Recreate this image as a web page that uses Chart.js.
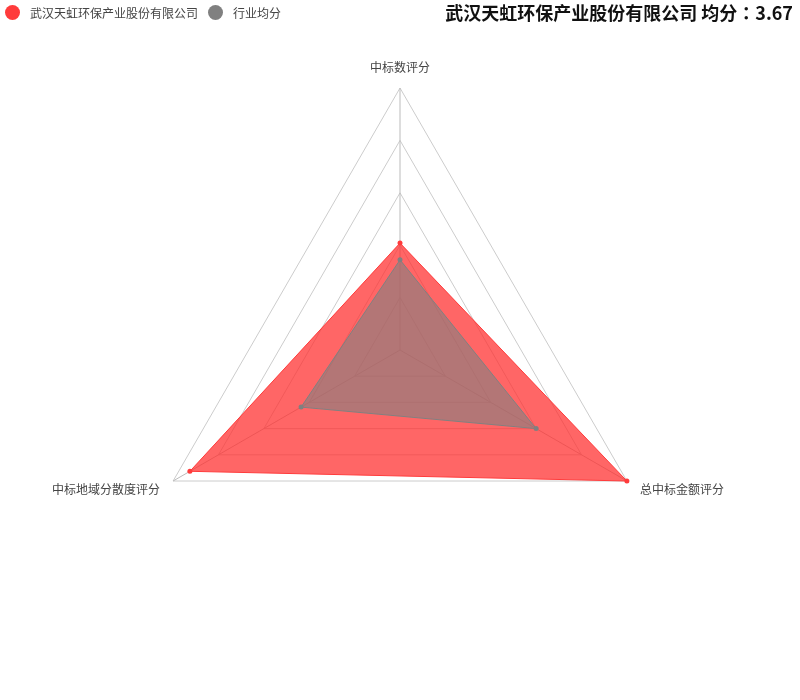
<!DOCTYPE html>
<html><head><meta charset="utf-8">
<script src="https://cdn.jsdelivr.net/npm/chart.js@4"></script>
<style>
html,body{margin:0;padding:0;background:#fff;}
#wrap{position:relative;width:800px;height:700px;overflow:hidden;}
canvas{position:absolute;left:0;top:0;}
#title{position:absolute;right:7px;top:3px;font:bold 18px/18px "Noto Sans CJK SC",sans-serif;color:#111;white-space:nowrap;}
#title .colon{font-family:"Noto Sans CJK TC",sans-serif;}
#legend{position:absolute;left:5px;top:5px;font:12px/15px "Noto Sans CJK SC",sans-serif;color:#444;display:flex;align-items:center;white-space:nowrap;}
.dot{display:inline-block;width:15px;height:15px;border-radius:50%;margin-right:10px;}
.item{display:flex;align-items:center;margin-right:10px;}
</style>
</head><body>
<div id="wrap">
<canvas id="c" width="800" height="700"></canvas>
<div id="legend"></div>
<div id="title"></div>
</div>
<script>
const categories = ['中标数评分', '总中标金额评分', '中标地域分散度评分'];
const companyName = '武汉天虹环保产业股份有限公司';
const industryName = '行业均分';
const companyScores = [2.04, 5.0, 4.63];
const industryScores = [1.72, 3.0, 2.18];
const averageText = '3.67';
const scaleMax = 5;
const scaleStep = 1;

const redLine = '#ff3b3b';
const redFill = 'rgba(255,51,51,0.75)';
const grayLine = '#808080';
const grayFill = 'rgba(128,128,128,0.6)';

const titleEl = document.getElementById('title');
titleEl.appendChild(document.createTextNode(companyName + ' 均分'));
const colon = document.createElement('span'); colon.className = 'colon'; colon.textContent = '：';
titleEl.appendChild(colon);
titleEl.appendChild(document.createTextNode(averageText));

const legendEl = document.getElementById('legend');
[[companyName, redLine], [industryName, grayLine]].forEach(([name, col]) => {
  const it = document.createElement('span'); it.className = 'item';
  const d = document.createElement('span'); d.className = 'dot'; d.style.background = col;
  const t = document.createElement('span'); t.textContent = name;
  it.appendChild(d); it.appendChild(t); legendEl.appendChild(it);
});

const labelPlugin = {
  id: 'axisNames',
  afterDraw(chart) {
    const s = chart.scales.r; const ctx = chart.ctx;
    ctx.save();
    ctx.font = '12px "Noto Sans CJK SC", sans-serif';
    ctx.fillStyle = '#444';
    categories.forEach((name, i) => {
      const p = s.getPointPosition(i, s.drawingArea + 15);
      const dx = p.x - s.xCenter, dy = p.y - s.yCenter;
      if (Math.abs(dx) < 1) { ctx.textAlign = 'center'; }
      else ctx.textAlign = dx > 0 ? 'left' : 'right';
      if (Math.abs(dx) < 1 && dy < 0) { ctx.textBaseline = 'bottom'; ctx.fillText(name, p.x, p.y); }
      else { ctx.textBaseline = 'middle'; ctx.fillText(name, p.x, p.y + 1); }
    });
    ctx.restore();
  }
};

new Chart(document.getElementById('c'), {
  type: 'radar',
  data: {
    labels: categories,
    datasets: [
      { label: companyName, data: companyScores, borderColor: redLine, backgroundColor: redFill,
        borderWidth: 1, pointRadius: 2.5, pointBackgroundColor: redLine, pointBorderWidth: 0, fill: true, order: 2 },
      { label: industryName, data: industryScores, borderColor: grayLine, backgroundColor: grayFill,
        borderWidth: 1, pointRadius: 2.5, pointBackgroundColor: grayLine, pointBorderWidth: 0, fill: true, order: 1 }
    ]
  },
  options: {
    responsive: false,
    animation: false,
    layout: { padding: { left: 138, right: 138, top: 88, bottom: 88 } },
    plugins: { legend: { display: false }, title: { display: false }, tooltip: { enabled: false } },
    scales: {
      r: {
        min: 0, max: scaleMax,
        ticks: { display: false, stepSize: scaleStep },
        grid: { color: '#cccccc', lineWidth: 1 },
        angleLines: { color: '#bbbbbb', lineWidth: 1 },
        pointLabels: { display: false }
      }
    }
  },
  plugins: [labelPlugin]
});
</script>
</body></html>
